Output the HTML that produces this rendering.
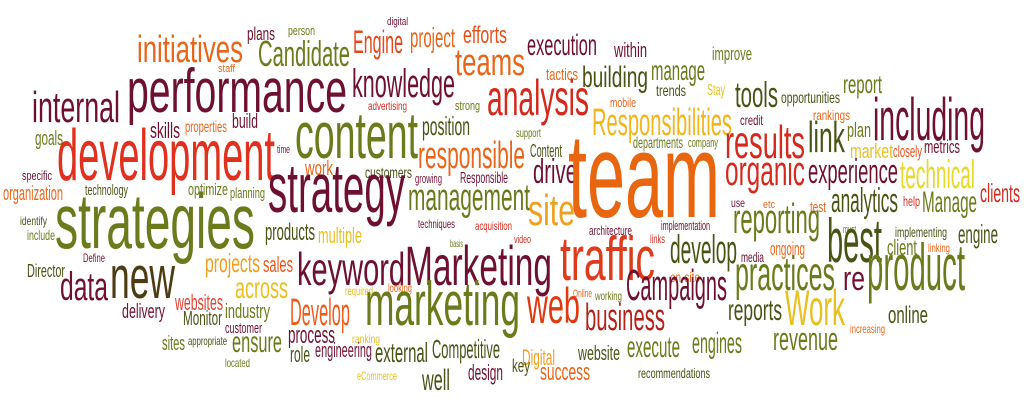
<!DOCTYPE html>
<html><head><meta charset="utf-8">
<style>
html,body{margin:0;padding:0;background:#fff;width:1024px;height:412px;overflow:hidden}
svg text{font-family:"Liberation Sans Narrow","Liberation Sans",sans-serif}
</style></head>
<body>
<svg id="cloud" width="1024" height="412" viewBox="0 0 1024 412" xmlns="http://www.w3.org/2000/svg"></svg>
<script>
const M="#6e1030",R="#d42a1e",O="#e8661a",G="#6b7a1a",Y="#e8c020",D="#4a5214",B="#4d3b12",YO="#f0a020";
// [text, left x, right x, baseline y, font size, color]
const words=[
["initiatives",137,243,62,38,O],["plans",247,275,40,18,M],["person",288,315,35,13,G],["digital",387,408,25,11,M],
["Candidate",258,350,66,36,G],["Engine",353,403,53,32,"#e8471d"],["project",410,455,47,28,O],["efforts",463,507,43,24,"#e8501a"],
["teams",455,525,75,38,O],["staff",218,235,72,11,O],["performance",127,347,112,62,M],["internal",32,120,122,44,M],
["knowledge",352,455,97,40,M],["advertising",368,407,110,12,R],["strong",455,480,110,13,G],["analysis",487,589,115,50,R],
["skills",150,180,138,22,M],["properties",185,227,132,16,O],["build",232,258,128,20,M],["goals",35,63,145,20,G],
["development",57,275,180,72,"#e0301e"],["time",277,290,153,11,M],["content",295,418,158,66,G],["position",422,470,135,26,D],
["responsible",418,525,168,38,O],["work",305,333,175,20,O],["customers",365,412,178,16,D],["growing",415,442,183,13,M],
["Responsible",460,508,183,16,M],["specific",22,52,180,13,M],["organization",3,63,200,20,O],["technology",85,128,195,15,D],
["optimize",188,228,195,17,G],["planning",230,265,198,15,G],["strategy",268,405,212,70,M],["management",408,530,210,38,G],
["strategies",55,255,248,78,G],["identify",20,47,225,12,D],["include",27,55,240,14,G],["products",265,315,240,24,D],
["multiple",318,362,243,22,Y],["techniques",418,455,228,12,M],["acquisition",475,512,230,12,R],["basis",450,463,247,10,G],
["Define",83,105,262,12,M],["Director",27,65,277,18,D],["data",60,108,300,40,M],["new",110,175,298,60,B],
["projects",205,260,272,26,YO],["sales",263,293,272,22,"#e8561a"],["keyword",297,405,285,46,M],["Marketing",405,552,285,56,M],
["across",235,288,298,30,Y],["required",345,373,295,12,Y],["looking",388,412,292,12,O],["websites",175,223,310,22,"#e04030"],
["delivery",122,165,318,20,M],["industry",225,270,318,20,G],["Develop",290,350,325,38,"#f05a1a"],["marketing",365,520,325,62,G],
["Monitor",183,222,325,20,D],["customer",225,262,333,15,M],["process",288,335,343,24,M],["ranking",352,380,343,12,Y],
["sites",162,185,350,20,G],["appropriate",188,227,345,12,D],["ensure",232,282,352,30,G],["role",290,310,362,22,D],
["engineering",315,372,357,20,M],["external",375,428,362,28,D],["Competitive",432,500,358,26,D],["located",225,250,367,12,G],
["eCommerce",357,397,380,12,Y],["well",422,450,390,30,D],["design",468,503,380,22,M],
["execution",527,597,55,30,M],["within",614,647,57,20,M],["improve",712,752,60,18,G],["tactics",546,578,80,17,O],
["building",582,648,87,30,D],["manage",651,705,80,28,G],["trends",656,686,96,16,D],["Stay",707,725,95,16,Y],
["tools",735,778,107,36,D],["opportunities",781,840,103,16,D],["report",843,882,93,26,G],["mobile",610,636,107,13,O],
["Responsibilities",592,732,135,38,"#f2b61a"],["rankings",813,850,120,14,O],["credit",740,763,125,14,M],["including",873,985,140,60,M],
["support",516,541,137,12,G],["Content",530,562,157,18,D],["departments",633,683,148,16,G],["company",688,718,147,13,G],
["results",725,805,158,46,R],["link",808,845,152,44,D],["plan",847,871,137,20,G],["market",850,893,158,20,Y],
["closely",893,922,157,17,"#e8501a"],["metrics",924,960,153,18,M],["drive",533,577,183,34,M],["team",568,720,217,120,"#e8660f"],
["organic",725,805,185,42,R],["experience",808,898,183,34,M],["technical",900,975,188,40,"#e8d82a"],["clients",980,1020,202,26,R],
["site",528,575,225,44,YO],["use",731,745,207,12,M],["etc",763,775,208,11,O],["test",810,826,212,15,O],
["analytics",831,898,212,34,D],["help",903,920,206,14,R],["Manage",922,977,212,30,G],["architecture",589,632,235,13,M],
["implementation",661,710,230,13,M],["implementing",895,947,237,14,D],["must",843,856,233,11,G],["reporting",733,820,233,42,G],
["engine",958,998,243,26,D],["video",514,531,243,11,R],["links",650,665,243,12,R],["traffic",560,655,280,62,"#de3a1c"],
["develop",670,737,263,40,D],["ongoing",770,805,255,18,O],["media",741,764,262,14,M],["best",827,882,262,62,D],
["client",887,917,255,22,G],["linking",928,950,252,12,O],["on-site",670,700,282,14,O],["practices",735,835,290,48,G],
["re",843,865,290,34,M],["product",867,965,290,66,G],["Online",573,592,297,11,O],["working",595,622,300,12,G],
["Campaigns",626,727,300,44,M],["web",527,580,323,50,"#e03a10"],["business",585,665,330,38,"#b4221c"],["reports",728,782,320,30,D],
["Work",785,845,325,50,Y],["online",888,928,323,24,D],["increasing",850,885,333,12,O],["engines",692,742,353,30,G],
["revenue",773,838,350,32,G],["Digital",522,555,365,22,YO],["website",578,620,360,20,D],["execute",627,680,357,30,G],
["key",512,530,372,18,D],["success",540,590,380,24,O],["recommendations",638,710,378,14,D]
];
const svg=document.getElementById('cloud');
const NS="http://www.w3.org/2000/svg";
words.forEach(w=>{
  const t=document.createElementNS(NS,'text');
  
  
  t.setAttribute('x',w[1]);
  t.setAttribute('y',w[3]);
  t.setAttribute('font-size',w[4]);
  t.setAttribute('fill',w[5]);
  t.setAttribute('textLength',w[2]-w[1]);
  t.setAttribute('lengthAdjust','spacingAndGlyphs');
  t.textContent=w[0];
  svg.appendChild(t);
});
</script>
</body></html>
